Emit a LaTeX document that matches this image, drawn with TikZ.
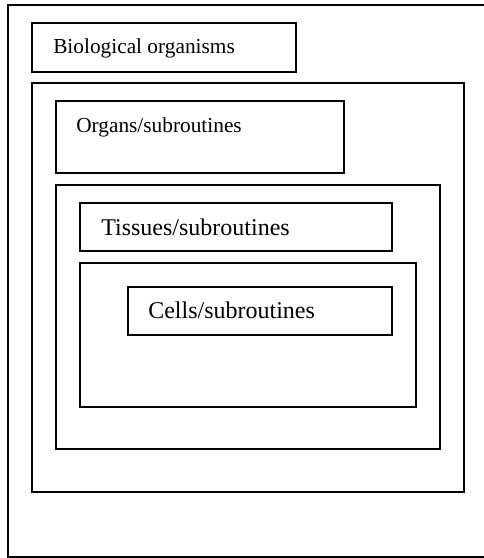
\documentclass[tikz,border=0pt]{standalone}
\usepackage{fontspec}
\setmainfont{Liberation Serif}
\usetikzlibrary{positioning}
\tikzset{
  frame/.style={draw=black,line width=1.3pt},
  lbl/.style={anchor=base west,inner sep=0pt},
}

\begin{document}
\begin{tikzpicture}[x=0.75pt,y=-0.75pt]
\useasboundingbox (0,0) rectangle (484,558);
% outer page frame, right side runs off the picture
\draw[frame] (8,5) rectangle (495,557);
% nested levels
\draw[frame] (32,23) rectangle (296,72);
\draw[frame] (32,83) rectangle (464,492);
\draw[frame] (56,101) rectangle (344,173);
\draw[frame] (56,185) rectangle (440,449);
\draw[frame] (80,203) rectangle (392,251);
\draw[frame] (80,263) rectangle (416,407);
\draw[frame] (128,287) rectangle (392,335);
\node[lbl,font=\fontsize{16}{18}\selectfont] (organism) at (53,53) {Biological organisms};
\node[lbl,font=\fontsize{16}{18}\selectfont] (organs) at (76,132) {Organs/subroutines};
\node[lbl,font=\fontsize{18}{20}\selectfont] (tissues) at (101,235) {Tissues/subroutines};
\node[lbl,font=\fontsize{18}{20}\selectfont] (cells) at (148,318) {Cells/subroutines};
\end{tikzpicture}
\end{document}
